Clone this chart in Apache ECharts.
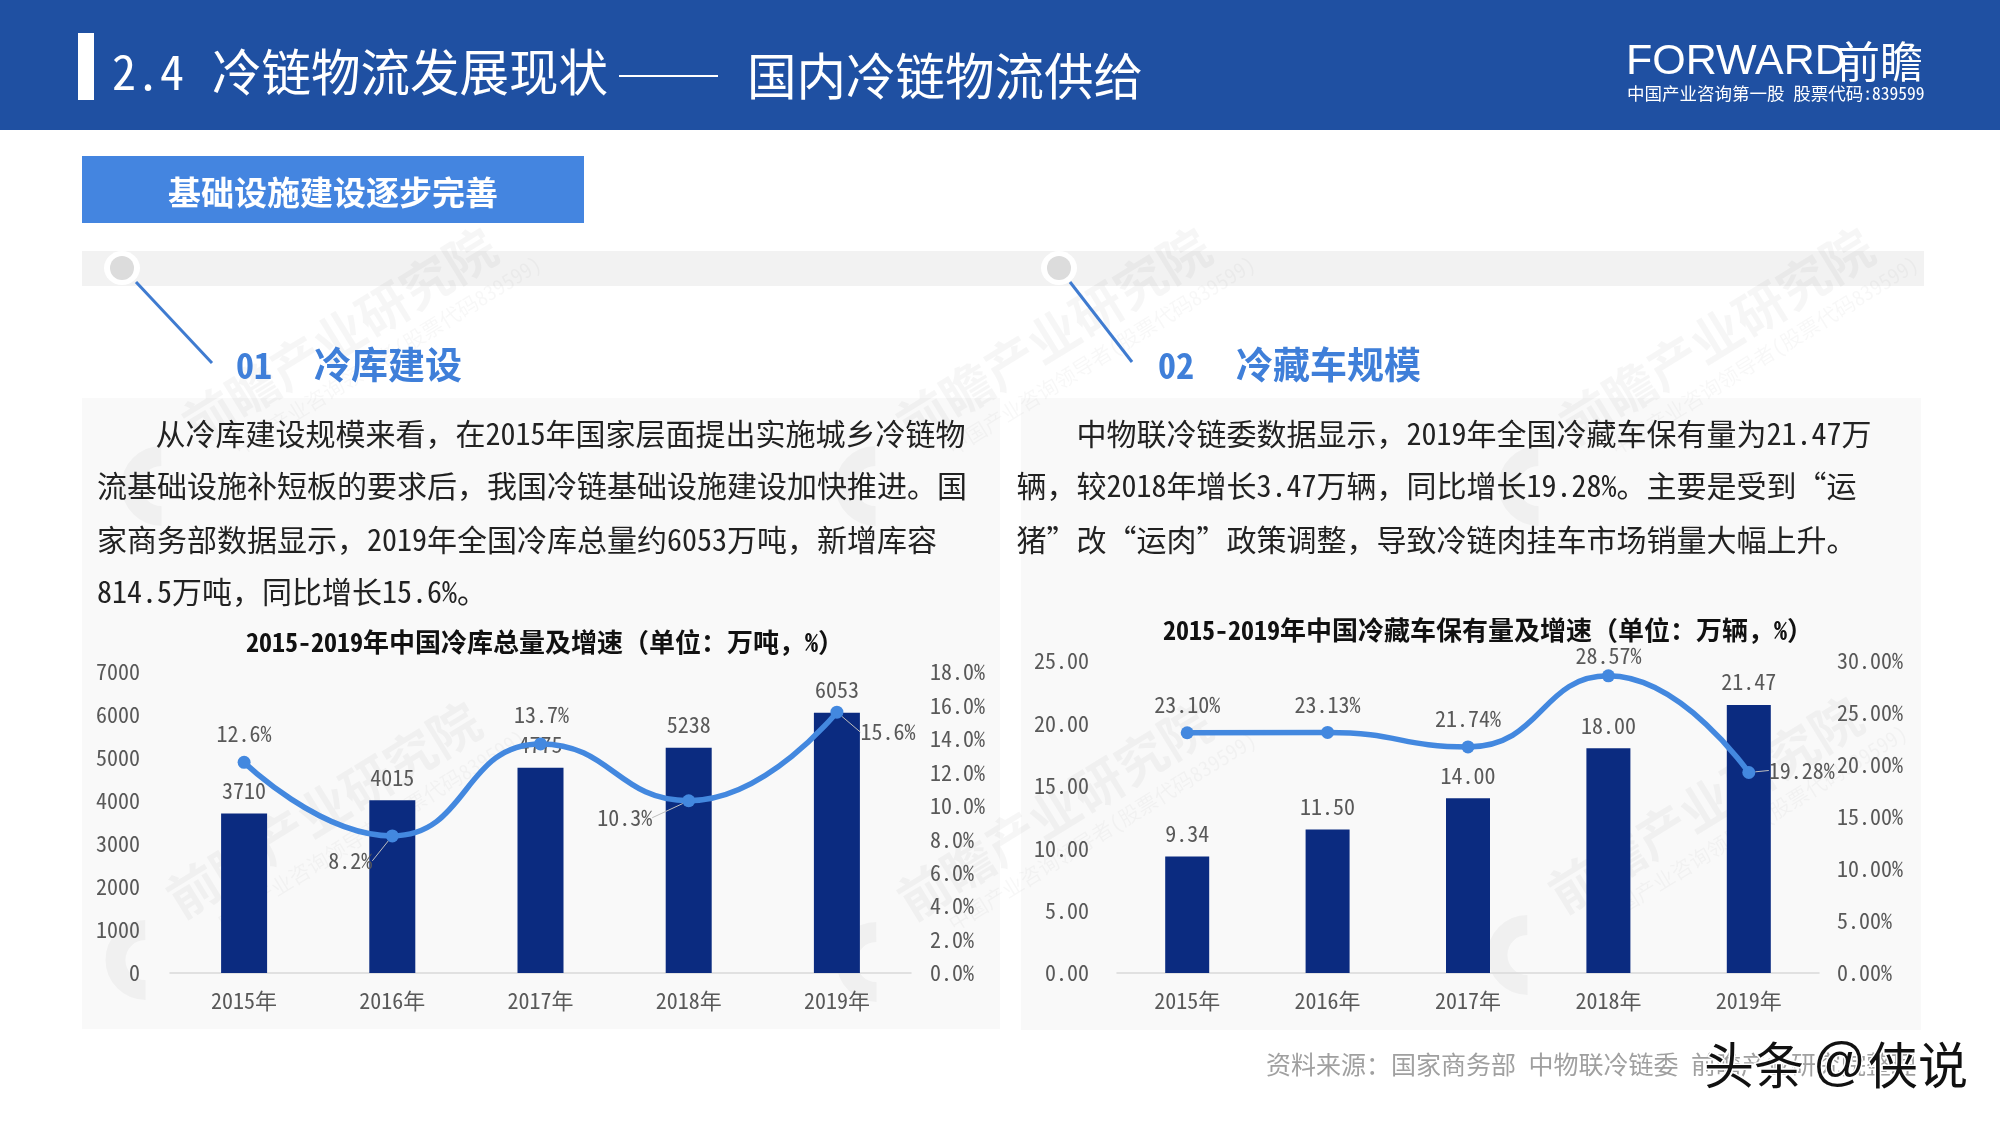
<!DOCTYPE html>
<html><head><meta charset="utf-8">
<style>html,body{margin:0;padding:0;background:#fff}#c{width:2000px;height:1125px}</style>
<script src="https://cdn.jsdelivr.net/npm/echarts@6/dist/echarts.min.js"></script>
</head><body><div id="c"></div>
<script>
const years = ['2015年','2016年','2017年','2018年','2019年'];
const storageTotal = [3710,4015,4775,5238,6053];
const storageGrowth = [12.6,8.2,13.7,10.3,15.6];
const truckTotal = [9.34,11.50,14.00,18.00,21.47];
const truckGrowth = [23.10,23.13,21.74,28.57,19.28];
const storageOffsets = [[0,-29],[-42,25],[1,-29],[-64,17],[51,20]];
const truckOffsets = [[0,-28],[0,-28],[0,-28],[0,-20],[53,-2]];
const storageLeaders = [false,true,false,true,true];
const truckLeaders = [false,false,false,false,true];
const storageTitle = '2015-2019年中国冷库总量及增速（单位：万吨，%）';
const truckTitle = '2015-2019年中国冷藏车保有量及增速（单位：万辆，%）';
const leftParagraph = ['从冷库建设规模来看，在2015年国家层面提出实施城乡冷链物','流基础设施补短板的要求后，我国冷链基础设施建设加快推进。国','家商务部数据显示，2019年全国冷库总量约6053万吨，新增库容','814.5万吨，同比增长15.6%。'];
const rightParagraph = ['中物联冷链委数据显示，2019年全国冷藏车保有量为21.47万','辆，较2018年增长3.47万辆，同比增长19.28%。主要是受到“运','猪”改“运肉”政策调整，导致冷链肉挂车市场销量大幅上升。'];
const lineYs = [434,486,539.5,592];
const wmStarts = [[201,451],[915,451],[1578,451],[185,925],[916,927],[1567,920]];

const FONT = '"Noto Sans Mono CJK SC","Noto Sans CJK SC",monospace';
const LATIN = '"Liberation Sans",Arial,sans-serif';
const BAR = '#0B2B80', LINE = '#4388DF', GREY = '#595959';

function T(x,y,text,size,color,opt){
  opt = opt||{};
  return {type:'text',x,y,z:opt.z||5,silent:true,style:{text,fontSize:size,fill:color,fontFamily:opt.f||FONT,
    fontWeight:opt.w||'normal',textAlign:opt.a||'left',textVerticalAlign:'middle',
    stroke:opt.stroke,lineWidth:opt.lw||0}};
}
function R(x,y,w,h,fill,z){return {type:'rect',silent:true,z:z||1,shape:{x,y,width:w,height:h},style:{fill}};}
function L(x1,y1,x2,y2,c,w){return {type:'line',silent:true,z:3,shape:{x1,y1,x2,y2},style:{stroke:c,lineWidth:w}};}
function pin(cx){return [
  {type:'ellipse',silent:true,z:3,shape:{cx,cy:268,rx:18,ry:17},style:{fill:'#fff'}},
  {type:'circle',silent:true,z:3,shape:{cx,cy:268,r:12},style:{fill:'#DCDCDC'}}];}
function watermark(p){
  return {type:'group',x:p[0],y:p[1],rotation:0.553,silent:true,z:2,children:[
    {type:'text',x:0,y:0,z:2,style:{text:'前瞻产业研究院',fontSize:51,fontWeight:'bold',fill:'rgba(0,0,0,0.035)',fontFamily:FONT,textVerticalAlign:'bottom'}},
    {type:'text',x:30,y:6,z:2,style:{text:'中国产业咨询领导者(股票代码839599)',fontSize:21,fill:'rgba(0,0,0,0.03)',fontFamily:FONT,textVerticalAlign:'top'}},
    {type:'arc',z:2,shape:{cx:-52,cy:9,r:30,startAngle:2.12,endAngle:5.26},style:{stroke:'rgba(0,0,0,0.035)',lineWidth:20,fill:'none'}}
  ]};
}
const graphics = [
  R(0,0,2000,130,'#1F50A2'),
  R(78,33,16,67,'#fff',3),
  T(112,72,'2.4',48,'#fff'),
  T(212,72,'冷链物流发展现状',49.5,'#fff'),
  L(619,76,718,76,'#fff',2),
  T(747,76,'国内冷链物流供给',49.5,'#fff'),
  T(1626,62,'FORWARD',43,'#fff',{f:LATIN}),
  T(1837,62,'前瞻',43,'#fff'),
  T(1627,93,'中国产业咨询第一股 股票代码:839599',17.5,'#fff'),
  R(82,156,502,67,'#4485E0'),
  T(333,192,'基础设施建设逐步完善',33,'#fff',{a:'center',w:'bold'}),
  R(82,251,1842,35,'#F2F2F2'),
  R(82,398,918,631,'#F9F9F9'),
  R(1021,398,900,632,'#F9F9F9'),
  L(136,282,212,363,'#3F7BD0',3),
  L(1070,282,1132,362,'#3F7BD0',3),
  ...pin(122), ...pin(1059),
  T(236,365,'01',36,'#3F7FD9',{w:'bold'}),
  T(314,365,'冷库建设',37,'#3F7FD9',{w:'bold'}),
  T(1158,365,'02',36,'#3F7FD9',{w:'bold'}),
  T(1236,365,'冷藏车规模',37,'#3F7FD9',{w:'bold'}),
  ...wmStarts.map(watermark),
  ...leftParagraph.map((s,i)=>T(i===0?155.5:97,lineYs[i],s,30,'#222')),
  ...rightParagraph.map((s,i)=>T(i===0?1076.5:1016.5,lineYs[i],s,30,'#222')),
  T(545,642,storageTitle,26,'#111',{a:'center',w:'bold'}),
  T(1488,630,truckTitle,26,'#111',{a:'center',w:'bold'}),
  T(1266,1064,'资料来源：国家商务部 中物联冷链委 前瞻产业研究院整理',25,'#A0A0A0'),
  T(1704,1065,'头条',50,'#111',{stroke:'#fff',lw:3,z:30}),
  T(1813,1065,'@',52,'#111',{f:LATIN,stroke:'#fff',lw:3,z:30}),
  T(1868,1065,'侠说',50,'#111',{stroke:'#fff',lw:3,z:30})
];

function barSeries(name,data,axisIdx,width){
  return {type:'bar',name,data,xAxisIndex:axisIdx,yAxisIndex:axisIdx*2,barWidth:width,z:5,
    itemStyle:{color:BAR},
    label:{show:true,position:'top',distance:12,fontSize:22,color:GREY,fontFamily:FONT,
      formatter:p=>axisIdx? p.value.toFixed(2):String(p.value)}};
}
function lineSeries(name,data,axisIdx,offs,leaders){
  return {type:'line',name,xAxisIndex:axisIdx,yAxisIndex:axisIdx*2+1,smooth:0.5,z:6,
    data:data.map((v,i)=>({value:v,labelLine:{show:leaders[i]}})),
    symbol:'circle',symbolSize:13,
    lineStyle:{color:LINE,width:5.5},itemStyle:{color:LINE},
    label:{show:true,position:'inside',fontSize:22,color:GREY,fontFamily:FONT,
      formatter:p=>p.value.toFixed(axisIdx?2:1)+'%'},
    labelLine:{show:true,lineStyle:{color:'#BFBFBF',width:1}},
    labelLayout:p=>({dx:offs[p.dataIndex][0],dy:offs[p.dataIndex][1]})};
}
function xA(grid,margin){return {type:'category',gridIndex:grid,data:years,z:4,
  axisLine:{lineStyle:{color:'#D9D9D9',width:1.5}},axisTick:{show:false},
  axisLabel:{color:GREY,fontSize:22,fontFamily:FONT,margin}};}
function yA(grid,pos,max,interval,margin,fmt){return {type:'value',gridIndex:grid,position:pos,min:0,max,interval,z:4,
  splitLine:{show:false},axisLine:{show:false},axisTick:{show:false},
  axisLabel:{color:GREY,fontSize:22,fontFamily:FONT,margin,formatter:fmt,showMaxLabel:true,showMinLabel:true}};}

const chart = echarts.init(document.getElementById('c'),null,{renderer:'canvas',width:2000,height:1125});
chart.setOption({
  animation:false,backgroundColor:'#fff',
  graphic:{elements:graphics},
  grid:[{left:170,top:672,width:741,height:301},{left:1117,top:661,width:702,height:312}],
  xAxis:[xA(0,17),xA(1,17)],
  yAxis:[
    yA(0,'left',7000,1000,30,v=>String(v)),
    yA(0,'right',18,2,19,v=>v.toFixed(1)+'%'),
    yA(1,'left',25,5,28,v=>v.toFixed(2)),
    yA(1,'right',30,5,18,v=>v.toFixed(2)+'%')
  ],
  series:[
    barSeries('冷库总量',storageTotal,0,46),
    lineSeries('冷库增速',storageGrowth,0,storageOffsets,storageLeaders),
    barSeries('冷藏车保有量',truckTotal,1,44),
    lineSeries('冷藏车增速',truckGrowth,1,truckOffsets,truckLeaders)
  ]
});
</script></body></html>
